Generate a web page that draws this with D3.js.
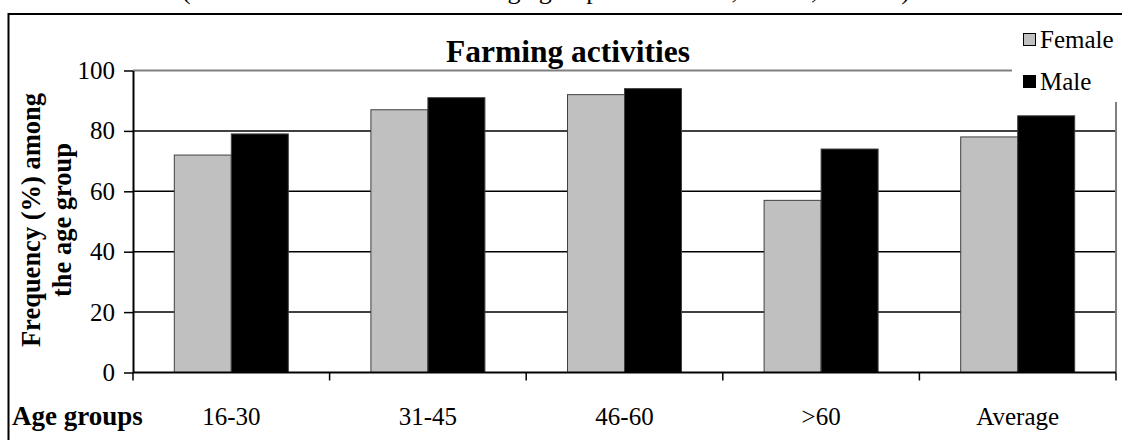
<!DOCTYPE html>
<html>
<head>
<meta charset="utf-8">
<script src="https://cdn.jsdelivr.net/npm/d3@7"></script>
<style>
  html, body { margin: 0; padding: 0; background: #fff; }
  svg { display: block; }
  text { font-family: "Liberation Serif", "Times New Roman", serif; fill: #000; }
</style>
</head>
<body>
<svg id="chart" width="1122" height="440"></svg>
<script>
// Farming activities by age group and sex (%)
const categories = ["16-30", "31-45", "46-60", ">60", "Average"];
const femaleValues = [72, 87, 92, 57, 78];
const maleValues = [79, 91, 94, 74, 85];
const seriesNames = ["Female", "Male"];
const seriesColors = ["#c0c0c0", "#000000"];
const yTickValues = [0, 20, 40, 60, 80, 100];

const svg = d3.select("#chart");
const W = 1122, H = 440;
const plot = { left: 133, right: 1116, top: 70.5, bottom: 372.5 };

// caption line running above the frame
svg.append("text")
  .attr("x", 182).attr("y", -1)
  .style("font-size", "26px")
  .text("(Farm work done within each age group for each sex, n=184, men 96)");

// outer frame
svg.append("path")
  .attr("d", `M8.5,${H} V14 H${W}`)
  .attr("fill", "none").attr("stroke", "#000").attr("stroke-width", 2);

const x = d3.scaleBand().domain(categories).range([plot.left, plot.right]).padding(0);
const xs = d3.scaleBand().domain(seriesNames).range([0, x.bandwidth()])
  .paddingInner(0).paddingOuter(0.7245);
const y = d3.scaleLinear().domain([0, 100]).range([plot.bottom, plot.top]);

// gridlines
svg.append("g").selectAll("line")
  .data(yTickValues.filter(v => v > 0 && v < 100))
  .join("line")
  .attr("x1", plot.left).attr("x2", plot.right)
  .attr("y1", d => y(d)).attr("y2", d => y(d))
  .attr("stroke", "#000").attr("stroke-width", 1.5);

// plot area border (top and right)
svg.append("path")
  .attr("d", `M${plot.left},${y(100)} H${plot.right} V${y(0)}`)
  .attr("fill", "none").attr("stroke", "#808080").attr("stroke-width", 2);

// bars
const rows = categories.map((c, i) => ({ cat: c, vals: [femaleValues[i], maleValues[i]] }));
const groups = svg.append("g").selectAll("g")
  .data(rows).join("g")
  .attr("transform", d => `translate(${x(d.cat)},0)`);
groups.selectAll("rect")
  .data(d => d.vals.map((v, j) => ({ key: seriesNames[j], v, j })))
  .join("rect")
  .attr("x", d => xs(d.key))
  .attr("width", xs.bandwidth())
  .attr("y", d => y(d.v))
  .attr("height", d => y(0) - y(d.v))
  .attr("fill", d => seriesColors[d.j])
  .attr("stroke", "#404040").attr("stroke-width", 1);

// y axis
const yAxis = d3.axisLeft(y).tickValues(yTickValues).tickSize(9).tickSizeOuter(0).tickPadding(9);
const gy = svg.append("g").attr("transform", `translate(${plot.left},0)`).call(yAxis);
gy.select(".domain").attr("stroke", "#000").attr("stroke-width", 2);
gy.selectAll(".tick line").attr("stroke", "#000").attr("stroke-width", 1.5);
gy.selectAll(".tick text")
  .style("font-size", "25px").style("font-family", "Liberation Serif, serif").attr("fill", "#000");

// x axis
svg.append("line")
  .attr("x1", plot.left).attr("x2", plot.right)
  .attr("y1", y(0)).attr("y2", y(0))
  .attr("stroke", "#000").attr("stroke-width", 2);
const boundaries = categories.map(c => x(c)).concat([x(categories[categories.length - 1]) + x.bandwidth()]);
svg.append("g").selectAll("line")
  .data(boundaries).join("line")
  .attr("x1", d => d).attr("x2", d => d)
  .attr("y1", y(0)).attr("y2", y(0) + 8)
  .attr("stroke", "#000").attr("stroke-width", 1.5);
svg.append("g").selectAll("text")
  .data(categories).join("text")
  .attr("x", d => x(d) + x.bandwidth() / 2)
  .attr("y", 425)
  .attr("text-anchor", "middle")
  .style("font-size", "25px")
  .text(d => d);

// axis titles
svg.append("text")
  .attr("x", 12).attr("y", 425)
  .style("font-size", "27px").style("font-weight", "bold")
  .text("Age groups");

const yTitle = svg.append("text")
  .attr("transform", "translate(0,220) rotate(-90)")
  .attr("text-anchor", "middle")
  .style("font-size", "26.5px").style("font-weight", "bold");
yTitle.append("tspan").attr("x", 0).attr("y", 40).text("Frequency (%) among");
yTitle.append("tspan").attr("x", 0).attr("y", 71).text("the age group");

// chart title
svg.append("text")
  .attr("x", 568).attr("y", 62)
  .attr("text-anchor", "middle")
  .style("font-size", "31.5px").style("font-weight", "bold")
  .text("Farming activities");

// legend
const legend = svg.append("g");
legend.append("rect")
  .attr("x", 1012).attr("y", 16).attr("width", W - 1012).attr("height", 86)
  .attr("fill", "#fff");
const legendY = [33, 75];
seriesNames.forEach((name, i) => {
  legend.append("rect")
    .attr("x", 1023.5).attr("y", legendY[i] + 0.5)
    .attr("width", 12).attr("height", 12)
    .attr("fill", seriesColors[i]).attr("stroke", "#000").attr("stroke-width", 1);
  legend.append("text")
    .attr("x", 1040).attr("y", legendY[i] + 15)
    .style("font-size", "25px")
    .text(name);
});
</script>
</body>
</html>
